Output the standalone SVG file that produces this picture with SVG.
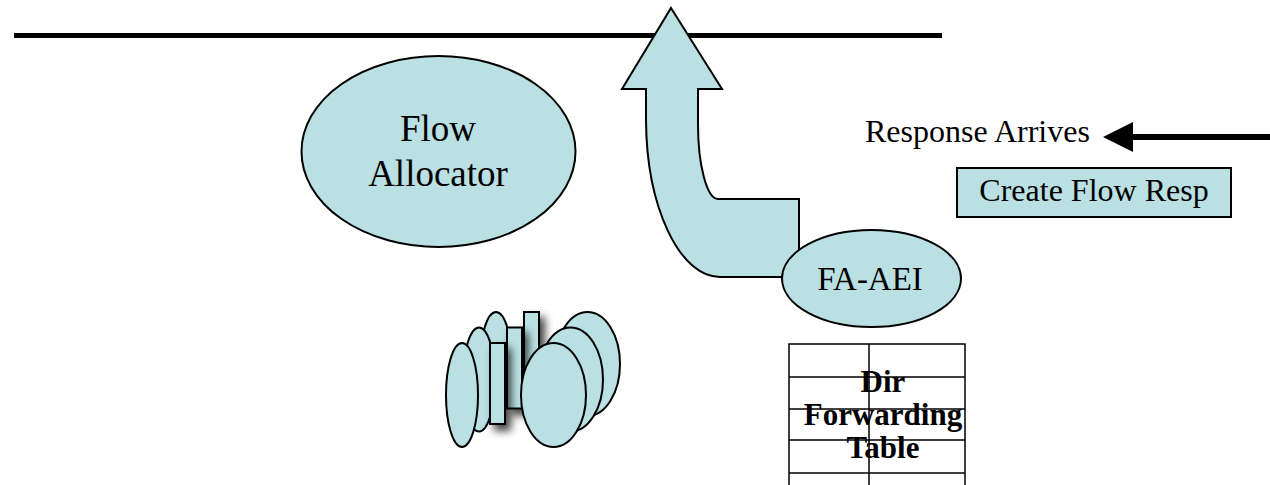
<svg xmlns="http://www.w3.org/2000/svg" width="1270" height="485" viewBox="0 0 1270 485">
<style>
.shape{fill:#BAE0E3;stroke:#000;stroke-width:2}
.t{font-family:"Liberation Serif","Times New Roman",serif;fill:#000}
.tb{font-family:"Liberation Serif","Times New Roman",serif;font-weight:bold;fill:#000}
.grid{stroke:#000;stroke-width:1.5;fill:none}
</style>
<defs>
<filter id="sh" x="-100%" y="-20%" width="300%" height="150%">
<feGaussianBlur in="SourceAlpha" stdDeviation="4"/>
<feOffset dx="5" dy="6" result="b"/>
<feComponentTransfer><feFuncA type="linear" slope="0.75"/></feComponentTransfer>
<feMerge><feMergeNode/><feMergeNode in="SourceGraphic"/></feMerge>
</filter>
</defs>
<rect width="1270" height="485" fill="#fff"/>
<g id="connectors">
<line x1="14" y1="35.5" x2="942" y2="35.5" stroke="#000" stroke-width="5"/>
<path class="shape" d="M671,8 L722,89 L698,89 L698,124 A20,75 0 0 0 718,199 L799,199 L799,277 L720,277 A74,159 0 0 1 646,120 L646,89 L622,89 Z"/>
<line x1="1270" y1="137" x2="1128" y2="137" stroke="#000" stroke-width="6"/>
<polygon points="1103,137 1133,122 1133,152" fill="#000"/>
</g>
<g id="flow-allocator">
<ellipse class="shape" cx="438.5" cy="151.5" rx="137" ry="95.5"/>
<text class="t" x="438" y="141" font-size="37" text-anchor="middle">Flow</text>
<text class="t" x="438" y="186" font-size="37" text-anchor="middle">Allocator</text>
</g>
<g id="fa-aei">
<ellipse class="shape" cx="871.5" cy="278.5" rx="89.5" ry="48.5"/>
<text class="t" x="870" y="290" font-size="33" text-anchor="middle">FA-AEI</text>
</g>
<g id="response-arrives">
<text class="t" x="865" y="142" font-size="32">Response Arrives</text>
</g>
<g id="create-flow-resp">
<rect class="shape" x="957" y="168" width="274" height="49" stroke-width="1.5"/>
<text class="t" x="1094" y="201" font-size="32" text-anchor="middle">Create Flow Resp</text>
</g>
<g id="dir-forwarding-table">
<rect x="789" y="344" width="176" height="160" fill="#fff"/>
<path class="grid" d="M789,504 V344 H965 V504 M869,344 V504 M789,377 H965 M789,409 H965 M789,440 H965 M789,473 H965"/>
<text class="tb" x="883" y="392" font-size="31" text-anchor="middle">Dir</text>
<text class="tb" x="883" y="425" font-size="31" text-anchor="middle">Forwarding</text>
<text class="tb" x="883" y="458" font-size="31" text-anchor="middle">Table</text>
</g>
<g id="machines">
<g transform="translate(34,-31)">
<ellipse class="shape" cx="462" cy="395" rx="16" ry="52"/>
<rect class="shape" x="490" y="343" width="15" height="81" filter="url(#sh)"/>
<ellipse class="shape" cx="553.5" cy="395" rx="32.5" ry="52"/>
</g>
<g transform="translate(17,-15.5)">
<ellipse class="shape" cx="462" cy="395" rx="16" ry="52"/>
<rect class="shape" x="490" y="343" width="15" height="81" filter="url(#sh)"/>
<ellipse class="shape" cx="553.5" cy="395" rx="32.5" ry="52"/>
</g>
<g>
<ellipse class="shape" cx="462" cy="395" rx="16" ry="52"/>
<rect class="shape" x="490" y="343" width="15" height="81" filter="url(#sh)"/>
<ellipse class="shape" cx="553.5" cy="395" rx="32.5" ry="52"/>
</g>
</g>
</svg>
